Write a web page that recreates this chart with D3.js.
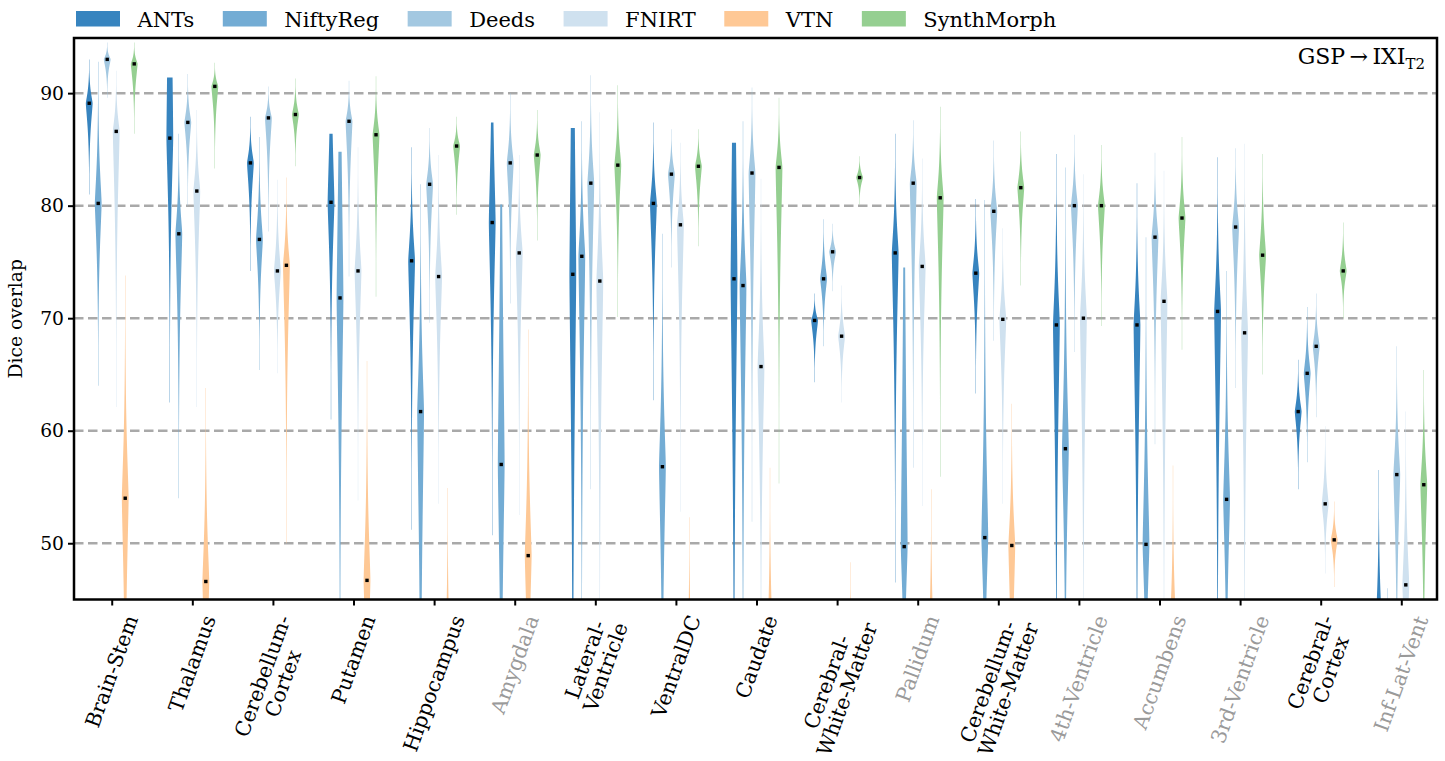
<!DOCTYPE html>
<html>
<head>
<meta charset="utf-8">
<script src="https://cdn.jsdelivr.net/npm/d3@7"></script>
<style>
  body { margin: 0; background: #fff; }
  text { font-family: "DejaVu Serif", serif; }
</style>
</head>
<body>
<div id="chart"></div>
<script>
// structures in plotted order, the greyed ones are the small labels
const structures = ["Brain-Stem", "Thalamus", "Cerebellum-\nCortex", "Putamen", "Hippocampus",
  "Amygdala", "Lateral-\nVentricle", "VentralDC", "Caudate", "Cerebral-\nWhite-Matter",
  "Pallidum", "Cerebellum-\nWhite-Matter", "4th-Ventricle", "Accumbens", "3rd-Ventricle",
  "Cerebral-\nCortex", "Inf-Lat-Vent"];
const greyed = ["Amygdala", "Pallidum", "4th-Ventricle", "Accumbens", "3rd-Ventricle", "Inf-Lat-Vent"];

const methods = ["ANTs", "NiftyReg", "Deeds", "FNIRT", "VTN", "SynthMorph"];
const colors = ["#3784bf", "#73acd4", "#a3c8e1", "#cfe1ef", "#fec895", "#95cf91"];

const yTicks = [50, 60, 70, 80, 90];

// Dice per structure: [low end, median, high end] (low end below 45 = cut by the axis)
const antsDice = [[81.0, 89.1, 93.0], [62.5, 86.0, 91.4], [74.2, 83.8, 87.9], [61.0, 80.3, 86.4],
  [51.2, 75.1, 85.2], [50.7, 78.5, 87.4], [15, 73.9, 86.9], [62.7, 80.2, 87.4], [20, 73.5, 85.6],
  [64.3, 69.8, 72.2], [46.5, 75.8, 86.4], [63.3, 74.0, 80.6], [30, 69.4, 84.6], [30, 69.4, 82.0],
  [30, 70.6, 84.3], [54.8, 61.7, 66.3], [20, 42, 56.5]];
const niftyDice = [[64.0, 80.2, 92.8], [54.0, 77.5, 86.4], [65.4, 77.0, 86.1], [30, 71.8, 84.8],
  [15, 61.7, 81.9], [15, 57.0, 80.1], [35, 75.5, 87.5], [25, 56.8, 77.5], [30, 72.9, 87.5],
  [67.5, 73.5, 78.8], [30, 49.7, 74.5], [30, 50.5, 80.5], [30, 58.4, 83.4], [30, 49.9, 77.2],
  [30, 53.9, 74.2], [57.2, 65.1, 71.0], [20, 35, 46]];
const deedsDice = [[89.6, 93.0, 94.5], [80.0, 87.4, 91.7], [77.7, 87.8, 90.6], [73.7, 87.5, 91.1],
  [69.6, 81.9, 86.9], [71.3, 83.8, 90.0], [54.8, 82.0, 91.6], [74.5, 82.8, 86.8], [51.9, 82.9, 90.5],
  [72.4, 75.9, 78.4], [56.7, 82.0, 87.6], [68.0, 79.5, 85.8], [67.0, 80.0, 86.3], [58.8, 77.2, 84.7],
  [63.8, 78.1, 85.1], [61.2, 67.5, 72.2], [35, 56.1, 67.5]];
const fnirtDice = [[62.1, 86.6, 92.0], [62.1, 81.3, 88.5], [65.1, 74.2, 82.3], [53.8, 74.2, 85.2],
  [53.5, 73.7, 84.5], [52.5, 75.8, 84.5], [35, 73.3, 88.3], [52.8, 78.3, 85.6], [35, 65.7, 82.4],
  [62.5, 68.4, 72.9], [53.3, 74.6, 84.2], [53.5, 69.9, 78.0], [35, 70.0, 82.8], [35, 71.5, 83.1],
  [35, 68.7, 85.5], [47.3, 53.5, 60.4], [30, 46.3, 61.7]];
const vtnDice = [[25, 54.0, 73.8], [25, 46.6, 63.8], [50.0, 74.7, 82.5], [25, 46.7, 66.2],
  [20, 38, 54.9], [25, 48.9, 69.0], [10, 25, 40], [20, 38, 52.3], [20, 40, 56.7],
  [20, 38, 48.3], [20, 40, 54.8], [25, 49.8, 62.4], [10, 25, 40], [20, 42, 56.9],
  [10, 25, 40], [46.1, 50.3, 53.7], [10, 25, 40]];
const synthDice = [[86.4, 92.6, 94.5], [83.3, 90.6, 92.7], [83.5, 88.1, 91.3], [71.9, 86.3, 91.5],
  [79.2, 85.3, 87.9], [76.9, 84.5, 88.5], [70.1, 83.6, 90.7], [76.4, 83.5, 86.8], [55.3, 83.4, 89.6],
  [80.1, 82.5, 84.4], [55.9, 80.7, 88.8], [72.9, 81.6, 86.6], [69.3, 80.0, 85.4], [67.2, 78.9, 86.1],
  [65.0, 75.6, 84.6], [70.0, 74.2, 78.5], [35, 55.2, 65.4]];
const allDice = [antsDice, niftyDice, deedsDice, fnirtDice, vtnDice, synthDice];

// violins whose upper end stays wide (method, structure index, spread at the top)
const flatTops = [["ANTs", 1, 0.3], ["ANTs", 3, 0.8], ["NiftyReg", 3, 0.8], ["ANTs", 5, 1.0],
  ["NiftyReg", 5, 1.2], ["ANTs", 6, 0.6], ["ANTs", 8, 0.6], ["NiftyReg", 10, 1.2]];

const width = 1445, height = 761;
const svg = d3.select("#chart").append("svg")
  .attr("width", width)
  .attr("height", height);

const x = d3.scaleLinear().domain([-0.468, 16.443]).range([74, 1437]);
const y = d3.scaleLinear().domain([45, 94.9]).range([599.5, 38]);
const hue = d3.scaleBand().domain(methods).range([-0.335, 0.335]);
const halfMax = 3.4;

svg.append("clipPath").attr("id", "plotclip")
  .append("rect")
  .attr("x", x.range()[0]).attr("y", y.range()[1])
  .attr("width", x.range()[1] - x.range()[0])
  .attr("height", y.range()[0] - y.range()[1]);

// dashed grid lines behind the violins
svg.append("g")
  .selectAll("line")
  .data(yTicks)
  .join("line")
  .attr("x1", x.range()[0]).attr("x2", x.range()[1])
  .attr("y1", d => y(d)).attr("y2", d => y(d))
  .attr("stroke", "#a9a9a9")
  .attr("stroke-width", 2.5)
  .attr("stroke-dasharray", "9.5,4.5");

// width profile of one violin: pointed bump around the median, thin tails to the ends
function profile(lo, med, hi, zTop) {
  const n = 120, pts = [];
  for (let i = 0; i <= n; i++) {
    const v = lo + (hi - lo) * i / n;
    const z = v >= med ? (v - med) / (hi - med) * zTop : (med - v) / (med - lo) * 3;
    pts.push([v, Math.max(Math.exp(-Math.pow(z, 1.3)), 0.05)]);
  }
  return pts;
}

const violins = [];
methods.forEach((m, mi) => {
  allDice[mi].forEach((d, si) => {
    const ft = flatTops.find(f => f[0] === m && f[1] === si);
    violins.push({ method: m, mi: mi, si: si, lo: d[0], med: d[1], hi: d[2], zTop: ft ? ft[2] : 3 });
  });
});

const cx = d => x(d.si + hue(d.method) + hue.bandwidth() / 2);

const plot = svg.append("g").attr("clip-path", "url(#plotclip)");

plot.selectAll("path.violin")
  .data(violins)
  .join("path")
  .attr("class", "violin")
  .attr("fill", d => colors[d.mi])
  .attr("d", d => {
    const c = cx(d);
    return d3.area()
      .y(p => y(p[0]))
      .x0(p => c - p[1] * halfMax)
      .x1(p => c + p[1] * halfMax)(profile(d.lo, d.med, d.hi, d.zTop));
  });

plot.selectAll("rect.median")
  .data(violins)
  .join("rect")
  .attr("class", "median")
  .attr("x", d => cx(d) - 1.7)
  .attr("y", d => y(d.med) - 1.7)
  .attr("width", 3.4).attr("height", 3.4)
  .attr("fill", "black");

// axes
const yAxis = svg.append("g")
  .attr("transform", `translate(${x.range()[0]},0)`)
  .call(d3.axisLeft(y).tickValues(yTicks).tickSize(6).tickPadding(4));
yAxis.select(".domain").remove();
yAxis.selectAll(".tick line").attr("stroke", "black").attr("stroke-width", 2);
yAxis.selectAll(".tick text")
  .attr("font-family", "DejaVu Serif").attr("font-size", 18.7).attr("fill", "black");

const xAxis = svg.append("g")
  .attr("transform", `translate(0,${y.range()[0]})`)
  .call(d3.axisBottom(x).tickValues(d3.range(structures.length)).tickSize(6).tickFormat(""));
xAxis.select(".domain").remove();
xAxis.selectAll(".tick line").attr("stroke", "black").attr("stroke-width", 2);

// rotated category labels, centred on the tick
structures.forEach((s, i) => {
  const g = svg.append("g");
  const lines = s.split("\n");
  const t = g.append("text")
    .attr("text-anchor", "middle")
    .attr("font-size", 20.5)
    .attr("fill", greyed.includes(s) ? "#9a9a9a" : "black")
    .attr("transform", "rotate(-70)");
  lines.forEach((l, li) => {
    t.append("tspan").attr("x", 0).attr("dy", li === 0 ? 0 : "1.05em").text(l);
  });
  const bb = g.node().getBBox();
  g.attr("transform", `translate(${x(i) - (bb.x + bb.width / 2)},${612 - bb.y})`);
});

svg.append("text")
  .attr("transform", `translate(22,${(y.range()[0] + y.range()[1]) / 2}) rotate(-90)`)
  .attr("text-anchor", "middle")
  .attr("font-size", 18.7)
  .text("Dice overlap");

// frame
svg.append("rect")
  .attr("x", x.range()[0]).attr("y", y.range()[1])
  .attr("width", x.range()[1] - x.range()[0])
  .attr("height", y.range()[0] - y.range()[1])
  .attr("fill", "none")
  .attr("stroke", "black")
  .attr("stroke-width", 2.5);

// annotation top right
const ann = svg.append("text")
  .attr("x", 1425).attr("y", 64)
  .attr("text-anchor", "end")
  .attr("font-family", "Liberation Serif")
  .attr("font-size", 22);
ann.append("tspan").text("GSP\u2009\u2192\u2009IXI");
ann.append("tspan").attr("font-size", 15).attr("dy", 5).text("T2");

// legend across the top
let lx = 76;
methods.forEach((m, i) => {
  svg.append("rect")
    .attr("x", lx).attr("y", 11)
    .attr("width", 44).attr("height", 15.5)
    .attr("fill", colors[i]);
  const t = svg.append("text")
    .attr("x", lx + 61.5).attr("y", 26.5)
    .attr("font-size", 21)
    .text(m);
  lx = lx + 61.5 + t.node().getComputedTextLength() + 28.5;
});
</script>
</body>
</html>
